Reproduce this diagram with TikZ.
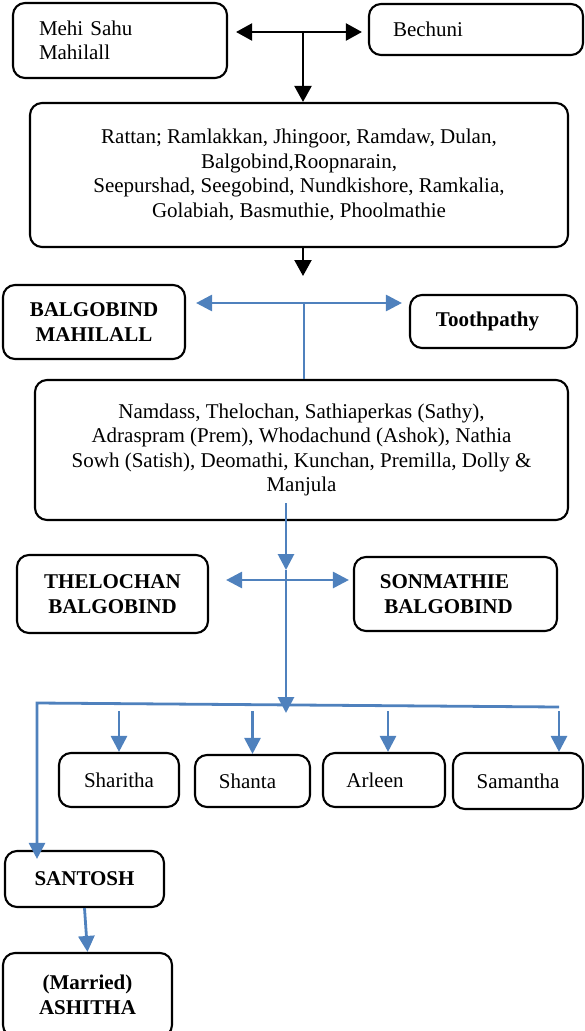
\documentclass[tikz,border=0pt]{standalone}
\usepackage{fontspec}
\setmainfont{Liberation Serif}
\usetikzlibrary{arrows.meta}
\definecolor{linkblue}{RGB}{79,129,189}

\begin{document}
\begin{tikzpicture}[x=1pt, y=-1pt,
		box/.style={draw, line width=2.1pt, rounded corners=12pt, inner sep=0pt, align=center, font=\fontsize{21}{24.5}\selectfont},
		boldbox/.style={box, font=\bfseries\fontsize{21}{24.5}\selectfont},
		blackline/.style={line width=2.2pt, >={Triangle[length=16pt,width=17pt]}},
		blueline/.style={draw=linkblue, line width=2.8pt, >={Triangle[length=16pt,width=16pt]}}]
		\useasboundingbox (0, 0) rectangle (585, 1031);
		\clip (0, 0) rectangle (585, 1031);
		
		% first generation
		\node[box, minimum width=214pt, minimum height=75pt, text width=162pt, align=left] (mehi) at (120, 40.5) {Mehi Sahu\\Mahilall};
		\node[box, minimum width=214pt, minimum height=51pt, text width=166pt, align=left] (bechuni) at (476, 29.5) {Bechuni};
		\node[box, minimum width=538pt, minimum height=144pt] (rattan) at (299, 175) {Rattan; Ramlakkan, Jhingoor, Ramdaw, Dulan,\\Balgobind,Roopnarain,\\Seepurshad, Seegobind, Nundkishore, Ramkalia,\\Golabiah, Basmuthie, Phoolmathie};
		
		\coordinate (top) at (303, 32);
		\coordinate (gen1) at (303, 276);
		\draw[blackline, <->] ([xshift=8pt]mehi.east |- top) -- ([xshift=-6pt]bechuni.west |- top);
		\draw[blackline, ->] (top) -- (top |- rattan.north);
		\draw[blackline, ->] (rattan.south -| gen1) -- (gen1);
		
		% second generation
		\node[boldbox, minimum width=182pt, minimum height=74pt] (balgobind) at (94, 322) {BALGOBIND\\MAHILALL};
		\node[boldbox, minimum width=167pt, minimum height=53pt] (tooth) at (493.5, 321.5) {Toothpathy\hspace*{12pt}};
		\node[box, minimum width=533pt, minimum height=140pt] (namdass) at (301.5, 450) {Namdass, Thelochan, Sathiaperkas (Sathy),\\Adraspram (Prem), Whodachund (Ashok), Nathia\\Sowh (Satish), Deomathi, Kunchan, Premilla, Dolly \&\\Manjula};
		
		\coordinate (mid2) at (304, 303);
		\draw[blueline, <->] ([xshift=10pt]balgobind.east |- mid2) -- ([xshift=-7pt]tooth.west |- mid2);
		\draw[blueline] (mid2) -- (mid2 |- namdass.north);
		
		% third generation
		\node[boldbox, minimum width=191pt, minimum height=78pt] (thelochan) at (112.5, 594) {THELOCHAN\\BALGOBIND};
		\node[boldbox, minimum width=203pt, minimum height=74pt] (sonmathie) at (455.5, 594) {SONMATHIE\hspace*{22pt}\\BALGOBIND\hspace*{14pt}};
		
		\coordinate (mid3) at (286, 580);
		\coordinate (mid4) at (286, 713);
		\draw[blueline, ->] ([yshift=18pt]namdass.south -| mid3) -- ([yshift=10pt]mid3);
		\draw[blueline, ->] ([yshift=10pt]mid3) -- (mid4);
		\draw[blueline, <->] ([xshift=17pt]thelochan.east |- mid3) -- ([xshift=-4pt]sonmathie.west |- mid3);
		
		% children
		\node[box, minimum width=120pt, minimum height=54pt] (sharitha) at (119, 780) {Sharitha};
		\node[box, minimum width=115pt, minimum height=52pt] (shanta) at (252.5, 781) {Shanta\hspace*{10pt}};
		\node[box, minimum width=122pt, minimum height=54pt] (arleen) at (384, 780) {Arleen\hspace*{18pt}};
		\node[box, minimum width=130pt, minimum height=56pt] (samantha) at (518, 781) {Samantha};
		
		\coordinate (barL) at (37, 703);
		\coordinate (barR) at (559, 707);
		\coordinate (kids) at (0, 711);
		\draw[blueline, ->] (sharitha.north |- kids) -- (sharitha.north);
		\draw[blueline, ->] (shanta.north |- kids) -- (shanta.north);
		\draw[blueline, ->] ([xshift=4pt]arleen.north |- kids) -- ([xshift=4pt]arleen.north);
		\draw[blueline, ->] (barR |- kids) -- (barR |- samantha.north);
		
		% santosh line
		\node[boldbox, minimum width=159pt, minimum height=56pt] (santosh) at (84.5, 879) {SANTOSH};
		\node[boldbox, minimum width=169pt, minimum height=84pt] (ashitha) at (87.5, 995) {(Married)\\ASHITHA};
		
		\draw[blueline, ->] (barR) -- (barL) -- ([yshift=-9pt]santosh.north -| barL);
		\draw[blueline, ->] (santosh.south) -- (ashitha.north);
	\end{tikzpicture}
\end{document}
